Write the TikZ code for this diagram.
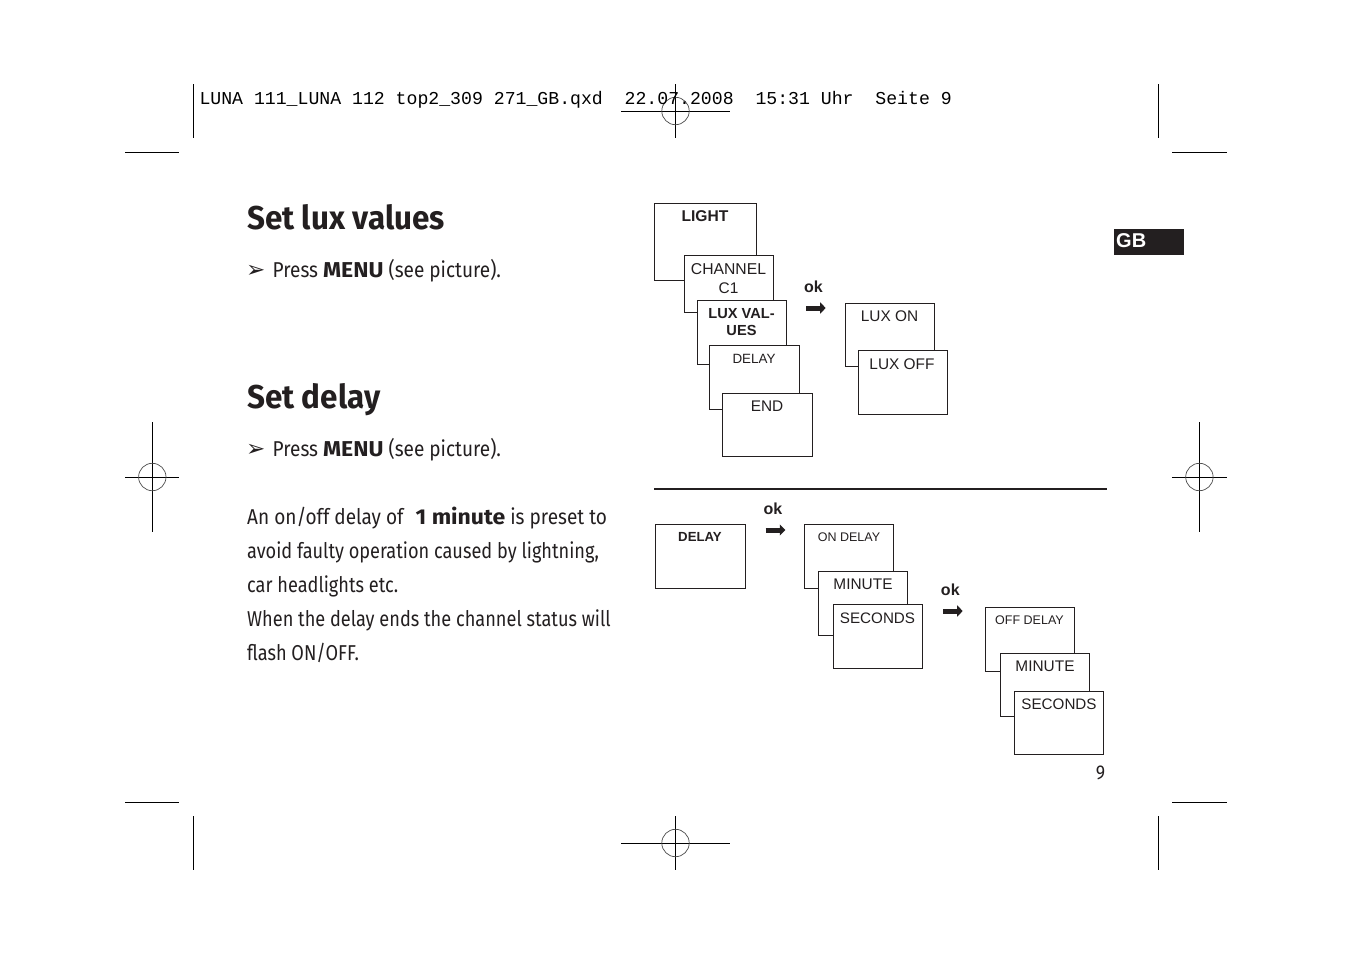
\documentclass[tikz,border=0pt]{standalone}
\usepackage{fontspec}
\usepackage{tikz}
\usetikzlibrary{arrows.meta}
\setmainfont{Liberation Sans}
\newfontfamily\metafont[FakeStretch=0.885]{Fira Sans}
\newfontfamily\metatight[FakeStretch=0.845]{Fira Sans}
\newfontfamily\metabold[FakeStretch=1.07]{Fira Sans}
\newfontfamily\metatitle[FakeStretch=0.951]{Fira Sans}
\newfontfamily\slugfont{Liberation Mono}
\newfontfamily\dingfont{DejaVu Sans}
\definecolor{ink}{HTML}{231F20}
\newcommand{\heavy}[1]{{\metabold\bfseries #1}}
\newcommand{\regmark}[4]{%
    \draw[cropline] (#1-#3,#2) -- (#1+#3,#2);
    \draw[cropline] (#1,#2-#4) -- (#1,#2+#4);
    \draw[regcircle] (#1,#2) circle (13.7);
}

\begin{document}
\begin{tikzpicture}[x=1pt,y=-1pt]
    \tikzstyle{cropline}=[line width=1pt,black]
    \tikzstyle{regcircle}=[line width=.7pt,black!70]
    \tikzstyle{screen}=[draw=ink,line width=1pt,fill=white,anchor=north west,inner sep=0pt,outer sep=0pt]
    \tikzstyle{big}=[screen,minimum width=89,minimum height=64]
    \tikzstyle{scr}=[anchor=base,inner sep=0pt,text=ink]
    \tikzstyle{scrbig}=[scr,font=\fontsize{15.4}{18}\selectfont]
    \tikzstyle{scrsmall}=[scr,font=\fontsize{12.5}{15}\selectfont]
    \tikzstyle{scrbold}=[scr,font=\fontsize{14.6}{17}\selectfont\bfseries]
    \tikzstyle{okarrow}=[-{Triangle[length=5.5pt,width=11pt]},line width=5pt,ink]
    \tikzstyle{oklabel}=[scr,font=\fontsize{16}{19}\selectfont\bfseries]
    \tikzstyle{title}=[anchor=base west,inner sep=0pt,text=ink,font=\metatitle\fontsize{33}{38}\selectfont\bfseries]
    \tikzstyle{body}=[anchor=base west,inner sep=0pt,text=ink,font=\metafont\fontsize{21.5}{28}\selectfont]
    \tikzstyle{bodytight}=[body,font=\metatight\fontsize{21.5}{28}\selectfont]
    \tikzstyle{bullet}=[anchor=base west,inner sep=0pt,text=ink,font=\dingfont\fontsize{23}{26}\selectfont]
    \useasboundingbox (0,0) rectangle (1352,954);

    % crop marks
    \draw[cropline] (193,84) -- (193,138);
    \draw[cropline] (125,152) -- (179,152);
    \draw[cropline] (1158.7,84) -- (1158.7,138);
    \draw[cropline] (1172,152) -- (1227,152);
    \draw[cropline] (193,816) -- (193,870);
    \draw[cropline] (125,802) -- (179,802);
    \draw[cropline] (1158.7,816) -- (1158.7,870);
    \draw[cropline] (1172,802) -- (1227,802);

    % registration marks
    \regmark{675.5}{111}{54.5}{27}
    \regmark{675.5}{843}{54.5}{27}
    \regmark{152.3}{477}{27}{55}
    \regmark{1199.4}{477}{27.5}{55}

    % slug line
    \node[anchor=base west,inner sep=0pt,font=\slugfont\fontsize{18.17}{20}\selectfont] (slug) at (199.3,104) {LUNA 111\_LUNA 112 top2\_309 271\_GB.qxd\ \ 22.07.2008\ \ 15:31 Uhr\ \ Seite 9};

    % left column
    \node[title] (luxtitle) at (247,229) {Set lux values};
    \node[bullet] (luxbullet) at (246,277) {➢};
    \node[body] (luxpress) at (272.5,277) {Press \heavy{MENU} (see picture).};
    \node[title] (delaytitle) at (247,408) {Set delay};
    \node[bullet] (delaybullet) at (246,456) {➢};
    \node[body] (delaypress) at (272.5,456) {Press \heavy{MENU} (see picture).};
    \node[body] (para1) at (247,524) {An on/off delay of \ \hspace{2pt}\heavy{1 minute} is preset to};
    \node[bodytight] (para2) at (247,558) {avoid faulty operation caused by lightning,};
    \node[bodytight] (para3) at (247,592) {car headlights etc.};
    \node[bodytight] (para4) at (247,626) {When the delay ends the channel status will};
    \node[bodytight] (para5) at (247,660) {flash ON/OFF.};

    % language tab
    \node[anchor=north west,fill=ink,inner sep=0pt,outer sep=0pt,minimum width=70,minimum height=26] (gbtab) at (1114,229) {};
    \node[anchor=base west,inner sep=0pt,text=white,font=\fontsize{20}{24}\selectfont\bfseries] (gb) at (1116,247.5) {GB};

    % menu screens
    \node[screen,minimum width=102,minimum height=77] (light) at (654.5,203.3) {};
    \node[screen,minimum width=89,minimum height=57] (channel) at (684.5,255.3) {};
    \node[big] (luxvalues) at (697.5,300.3) {};
    \node[screen,minimum width=90,minimum height=64] (delay) at (709.3,345.3) {};
    \node[screen,minimum width=90,minimum height=63] (endscr) at (722.3,393.3) {};
    \node[scr,font=\fontsize{15.6}{18}\selectfont\bfseries] (lightlab) at (705,221.5) {LIGHT};
    \node[scrbig,font=\fontsize{15.7}{18}\selectfont] (channellab) at (728.5,274.5) {CHANNEL};
    \node[scrbig] (channellabb) at (728.5,293) {C1};
    \node[scrbold] (luxvallab) at (741.5,318.5) {LUX VAL-};
    \node[scrbold] (luxvallabb) at (741.5,335.5) {UES};
    \node[scr,font=\fontsize{13.4}{16}\selectfont] (delaylab) at (754,363.7) {DELAY};
    \node[scrbig] (endlab) at (767,411.5) {END};

    % lux screens
    \node[screen,minimum width=89,minimum height=63] (luxon) at (845.3,303.3) {};
    \node[big] (luxoff) at (858.3,350.3) {};
    \node[scrbig] (luxonlab) at (889.5,321) {LUX ON};
    \node[scrbig] (luxofflab) at (902,369) {LUX OFF};

    % first ok
    \node[oklabel] (oka) at (813.5,292) {ok};
    \coordinate (okaa) at (806,308);
    \coordinate (okab) at (825.7,308);
    \draw[okarrow] (okaa) -- (okab);

    % divider
    \coordinate (rulea) at (654,489);
    \coordinate (ruleb) at (1107,489);
    \draw[line width=1.6pt,ink] (rulea) -- (ruleb);

    % delay screen
    \node[screen,minimum width=90,minimum height=64] (delayb) at (655.3,524.3) {};
    \node[scr,font=\fontsize{13.2}{16}\selectfont\bfseries] (delayblab) at (700,541) {DELAY};

    % second ok
    \node[oklabel] (okb) at (773,514) {ok};
    \coordinate (okba) at (765.7,530);
    \coordinate (okbb) at (785.3,530);
    \draw[okarrow] (okba) -- (okbb);

    % on delay screens
    \node[big] (ondelay) at (804.3,524.3) {};
    \node[big] (minutea) at (818.3,571.3) {};
    \node[big] (secondsa) at (833.3,604.3) {};
    \node[scrsmall] (ondelaylab) at (849,541.3) {ON DELAY};
    \node[scrbig] (minutealab) at (863,589) {MINUTE};
    \node[scrbig,font=\fontsize{15.2}{18}\selectfont] (secondsalab) at (877.5,623.3) {SECONDS};

    % third ok
    \node[oklabel] (okc) at (950.3,595.5) {ok};
    \coordinate (okca) at (943,611);
    \coordinate (okcb) at (962.7,611);
    \draw[okarrow] (okca) -- (okcb);

    % off delay screens
    \node[screen,minimum width=89.5,minimum height=64] (offdelay) at (985.3,607.3) {};
    \node[screen,minimum width=89,minimum height=63] (minuteb) at (1000.3,653.3) {};
    \node[screen,minimum width=89,minimum height=63] (secondsb) at (1014.3,691.3) {};
    \node[scrsmall] (offdelaylab) at (1029.5,624.3) {OFF DELAY};
    \node[scrbig] (minuteblab) at (1045,671) {MINUTE};
    \node[scrbig,font=\fontsize{15.2}{18}\selectfont] (secondsblab) at (1059,709) {SECONDS};

    % page number
    \node[anchor=base,inner sep=0pt,text=ink,font=\metafont\fontsize{20}{22}\selectfont] (pageno) at (1100.5,779) {9};
\end{tikzpicture}
\end{document}
